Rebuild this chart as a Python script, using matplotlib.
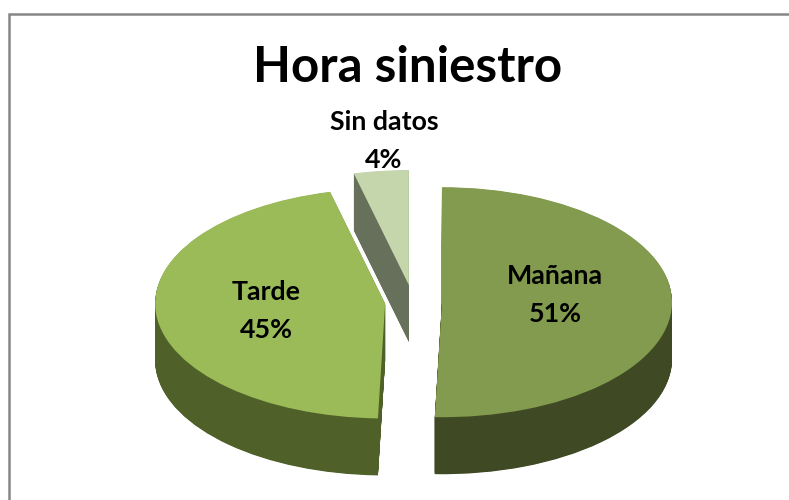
import matplotlib
matplotlib.use('Agg')
import matplotlib.pyplot as plt
from matplotlib.lines import Line2D

plt.rcParams['font.family'] = ['Lato', 'DejaVu Sans']

titulo = 'Hora siniestro'
categorias = ['Mañana', 'Tarde', 'Sin datos']
valores = [50.5, 45.65, 3.85]
porcentajes = ['51%', '45%', '4%']
colores = ['#839B4E', '#9BBB59', '#C5D6AC']
laterales = ['#3F4A24', '#4F6128', '#66705A']
explode = [29, 28, 34]

fig = plt.figure(figsize=(7.89, 5.0), dpi=100)
ax = fig.add_axes([0, 0, 1, 1])

# y en medios pixeles para aplastar el pie
centro = (413, 396)
radio = 230
prof = 114

for d in range(prof, 0, -1):
    ax.pie(valores, colors=laterales, explode=explode, startangle=90, counterclock=False,
           center=(centro[0], centro[1] - d), radius=radio, wedgeprops={'linewidth': 0})
ax.pie(valores, colors=colores, explode=explode, startangle=90, counterclock=False,
       center=centro, radius=radio, wedgeprops={'linewidth': 0})

ax.set_aspect('auto')
ax.set_xlim(0, 789)
ax.set_ylim(0, 1000)
ax.axis('off')

# etiquetas
pos_etiquetas = [(555, 295), (266, 311), (384, 141)]
for cat, pct, pos in zip(categorias, porcentajes, pos_etiquetas):
    ax.text(pos[0], 1000 - 2 * pos[1], f'{cat}\n{pct}', ha='center', va='center',
            fontsize=19.3, fontweight='bold', color='black', linespacing=1.72)

ax.text(408, 1000 - 2 * 67, titulo, ha='center', va='center', fontsize=35.5,
        fontweight='bold', color='black')

# borde del grafico, cortado a la derecha y abajo
fig.add_artist(Line2D([9 / 789, 9 / 789, 1], [0, 1 - 14 / 500, 1 - 14 / 500],
                      color='#868686', lw=1.8, solid_joinstyle='miter'))

fig.savefig('out.png', dpi=100)
